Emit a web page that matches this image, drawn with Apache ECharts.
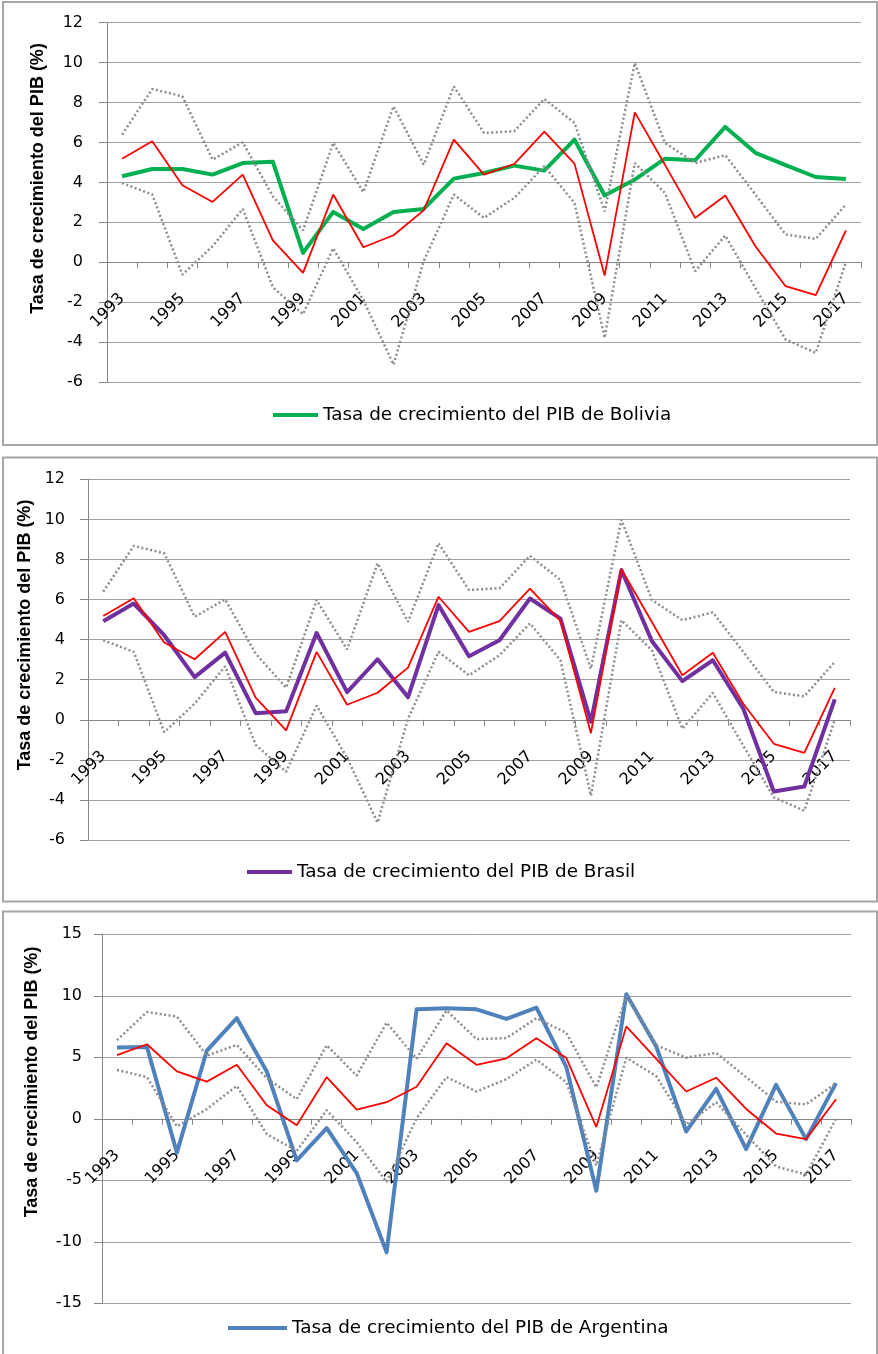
<!DOCTYPE html>
<html>
<head>
<meta charset="utf-8">
<script src="https://cdn.jsdelivr.net/npm/echarts@6/dist/echarts.min.js"></script>
<style>
html,body{margin:0;padding:0;background:#fff;}
#chart{width:878px;height:1354px;}
</style>
</head>
<body>
<div id="chart"></div>
<script>
const years = ['1993','1994','1995','1996','1997','1998','1999','2000','2001','2002','2003','2004','2005','2006','2007','2008','2009','2010','2011','2012','2013','2014','2015','2016','2017'];

// Promedio (línea roja)
const promedio = [5.18, 6.06, 3.86, 3.02, 4.39, 1.10, -0.53, 3.39, 0.75, 1.35, 2.60, 6.14, 4.39, 4.92, 6.54, 4.94, -0.67, 7.51, 4.88, 2.22, 3.34, 0.80, -1.20, -1.65, 1.59];
// Banda superior (punteada)
const superior = [6.39, 8.68, 8.31, 5.14, 6.01, 3.3, 1.6, 5.98, 3.51, 7.81, 4.89, 8.81, 6.48, 6.56, 8.18, 6.98, 2.55, 9.98, 5.98, 4.97, 5.36, 3.39, 1.39, 1.17, 2.89];
// Banda inferior (punteada)
const inferior = [3.97, 3.39, -0.62, 0.8, 2.67, -1.25, -2.6, 0.7, -1.9, -5.13, 0.05, 3.39, 2.22, 3.22, 4.81, 2.97, -3.79, 4.97, 3.47, -0.45, 1.34, -1.3, -3.87, -4.54, 0.0];

const bolivia = [4.31, 4.67, 4.67, 4.39, 4.97, 5.03, 0.47, 2.52, 1.67, 2.52, 2.67, 4.19, 4.47, 4.84, 4.59, 6.14, 3.34, 4.14, 5.19, 5.11, 6.78, 5.48, 4.86, 4.27, 4.17];
const brasil = [4.92, 5.8, 4.22, 2.13, 3.35, 0.33, 0.42, 4.33, 1.38, 3.02, 1.13, 5.72, 3.17, 3.97, 6.05, 5.05, -0.1, 7.47, 3.93, 1.93, 2.97, 0.55, -3.58, -3.33, 1.02];
const argentina = [5.79, 5.84, -2.75, 5.55, 8.18, 3.85, -3.38, -0.76, -4.41, -10.86, 8.9, 8.99, 8.9, 8.12, 9.04, 4.2, -5.85, 10.13, 5.88, -1.03, 2.44, -2.46, 2.76, -1.65, 2.9];

const yTitle = 'Tasa de crecimiento del PIB (%)';
const panels = [
  {name:'Tasa de crecimiento del PIB de Bolivia', data:bolivia, color:'#00B050',
   grid:{left:107, top:22.7, width:754, height:359.3}, ymin:-6, ymax:12, yint:2,
   frame:{x:3, y:2, w:874, h:443}, title:{x:38, y:178.5},
   legend:{left:268, top:401, w:45}, ylabMargin:24},
  {name:'Tasa de crecimiento del PIB de Brasil', data:brasil, color:'#7030A0',
   grid:{left:88, top:479.3, width:762, height:360.7}, ymin:-6, ymax:12, yint:2,
   frame:{x:3, y:457.5, w:874, h:444}, title:{x:25, y:635},
   legend:{left:242, top:858, w:45}, ylabMargin:23},
  {name:'Tasa de crecimiento del PIB de Argentina', data:argentina, color:'#4F81BD',
   grid:{left:102, top:934.3, width:749, height:369}, ymin:-15, ymax:15, yint:5,
   frame:{x:3, y:911.5, w:874, h:460}, title:{x:32, y:1082},
   legend:{left:223, top:1314, w:59}, ylabMargin:20}
];

const axisGray = '#868686';
const font = 'DejaVu Sans';

const option = {
  animation:false,
  backgroundColor:'#ffffff',
  grid: panels.map(p => Object.assign({containLabel:false}, p.grid)),
  xAxis: panels.map((p,i) => ({
    type:'category', gridIndex:i, data:years, boundaryGap:true, position:'bottom',
    // move the whole axis (line, ticks, labels) up to the zero line
    offset: -p.grid.height * (0 - p.ymin) / (p.ymax - p.ymin),
    axisLine:{show:true, onZero:false, lineStyle:{color:axisGray, width:1}},
    axisTick:{show:true, interval:0, length:6, lineStyle:{color:axisGray, width:1}},
    axisLabel:{interval:1, rotate:45, margin:34, fontFamily:font, fontSize:16, color:'#000'},
    splitLine:{show:false}
  })),
  yAxis: panels.map((p,i) => ({
    type:'value', gridIndex:i, min:p.ymin, max:p.ymax, interval:p.yint,
    axisLine:{show:true, lineStyle:{color:axisGray, width:1}},
    axisTick:{show:true, length:8, lineStyle:{color:axisGray, width:1}},
    axisLabel:{margin:p.ylabMargin, fontFamily:font, fontSize:16, color:'#000'},
    splitLine:{show:true, lineStyle:{color:'#a0a0a0', width:1}}
  })),
  legend: panels.map((p,i) => ({
    data:[p.name], left:p.legend.left, top:p.legend.top, icon:'rect',
    itemWidth:p.legend.w, itemHeight:4, itemGap:5,
    textStyle:{fontFamily:font, fontSize:18.4, color:'#000'},
    selectedMode:false
  })),
  series: [],
  graphic: []
};

panels.forEach((p,i) => {
  option.series.push({
    name:p.name, type:'line', xAxisIndex:i, yAxisIndex:i, data:p.data,
    showSymbol:false, symbol:'none', color:p.color,
    lineStyle:{color:p.color, width:4, join:'round'}, z:2
  });
  option.series.push({
    name:'Promedio'+i, type:'line', xAxisIndex:i, yAxisIndex:i, data:promedio,
    showSymbol:false, symbol:'none', color:'#FF0000',
    lineStyle:{color:'#FF0000', width:1.8}, z:3
  });
  option.series.push({
    name:'Superior'+i, type:'line', xAxisIndex:i, yAxisIndex:i, data:superior,
    showSymbol:false, symbol:'none', color:'#8c8c8c',
    lineStyle:{color:'#8c8c8c', width:2.5, type:[2,2.5]}, z:4
  });
  option.series.push({
    name:'Inferior'+i, type:'line', xAxisIndex:i, yAxisIndex:i, data:inferior,
    showSymbol:false, symbol:'none', color:'#8c8c8c',
    lineStyle:{color:'#8c8c8c', width:2.5, type:[2,2.5]}, z:4
  });
  option.graphic.push({
    type:'rect', shape:{x:p.frame.x, y:p.frame.y, width:p.frame.w, height:p.frame.h},
    style:{fill:'none', stroke:'#a6a6a6', lineWidth:2}, silent:true, z:0
  });
  option.graphic.push({
    type:'text', x:p.title.x, y:p.title.y, rotation:Math.PI/2,
    style:{text:yTitle, font:'bold 18px "Liberation Sans"', fill:'#000',
           textAlign:'center', textVerticalAlign:'middle'}, silent:true
  });
});

const chart = echarts.init(document.getElementById('chart'), null, {renderer:'canvas'});
chart.setOption(option);
</script>
</body>
</html>
